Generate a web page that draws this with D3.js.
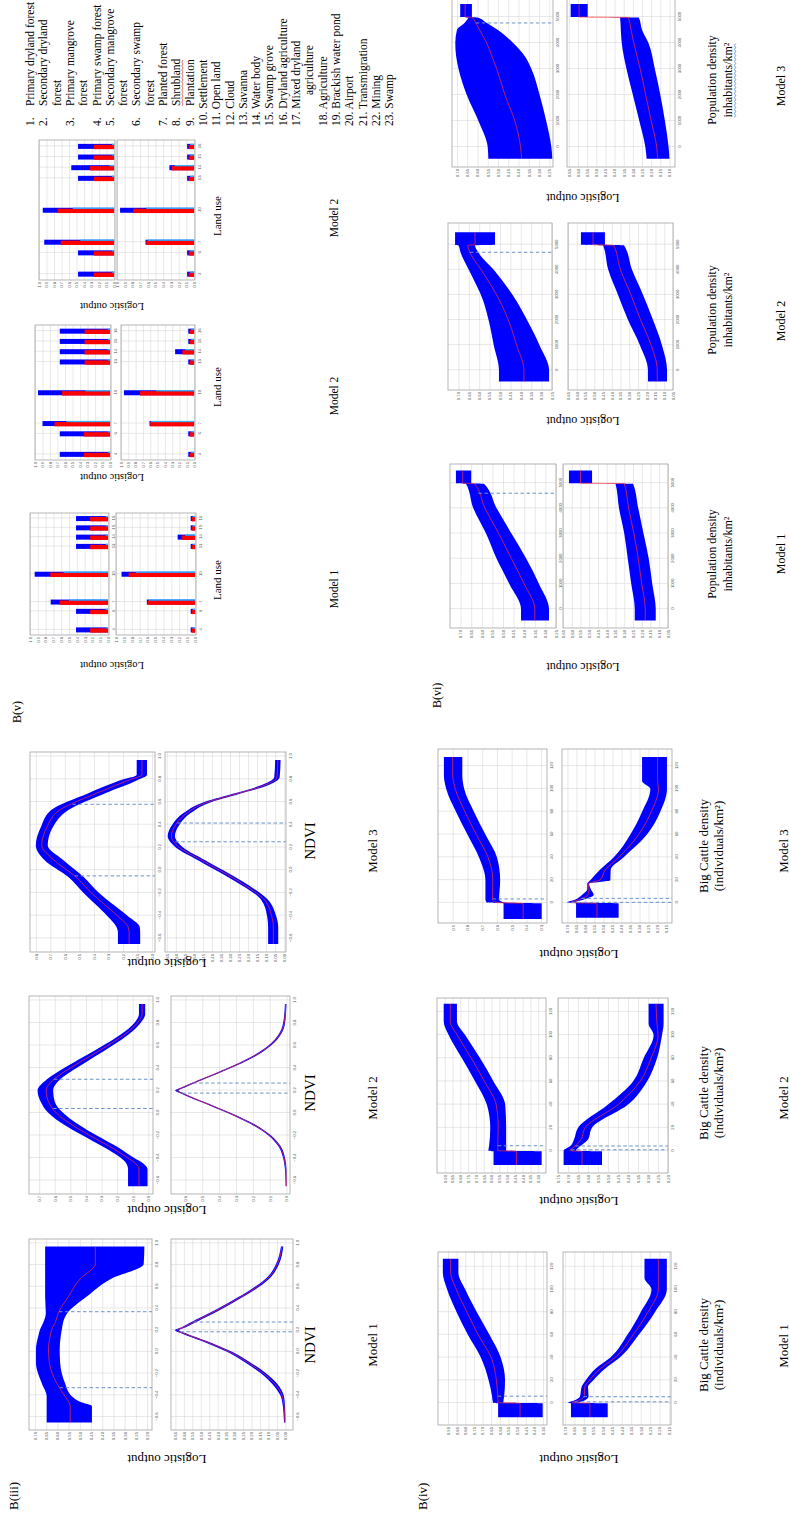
<!DOCTYPE html>
<html>
<head>
<meta charset="utf-8">
<script src="https://cdn.jsdelivr.net/npm/d3@7/dist/d3.min.js"></script>
<style>body{margin:0;background:#fff}</style>
</head>
<body>
<svg id="fig" width="790" height="1516"></svg>
<script>
// x tick labels
var ndviTicks = [-0.6, -0.4, -0.2, 0.0, 0.2, 0.4, 0.6, 0.8, 1.0];
var cattleTicks = [0, 20, 40, 60, 80, 100, 120];
var popTicks = [0, 1000, 2000, 3000, 4000, 5000];
var landCats = [4, 6, 7, 10, 13, 14, 15, 16];

// y tick labels
var yt20to70 = [0.20, 0.25, 0.30, 0.35, 0.40, 0.45, 0.50, 0.55, 0.60, 0.65, 0.70];
var yt00to65 = [0.00, 0.05, 0.10, 0.15, 0.20, 0.25, 0.30, 0.35, 0.40, 0.45, 0.50, 0.55, 0.60, 0.65];
var yt0to7 = [0.0, 0.1, 0.2, 0.3, 0.4, 0.5, 0.6, 0.7];
var yt0to6 = [0.0, 0.1, 0.2, 0.3, 0.4, 0.5, 0.6];
var yt0to8 = [0.0, 0.1, 0.2, 0.3, 0.4, 0.5, 0.6, 0.7, 0.8];
var yt35to90 = [0.35, 0.40, 0.45, 0.50, 0.55, 0.60, 0.65, 0.70, 0.75, 0.80, 0.85, 0.90];
var yt15to70 = [0.15, 0.20, 0.25, 0.30, 0.35, 0.40, 0.45, 0.50, 0.55, 0.60, 0.65, 0.70];
var yt30to90 = [0.30, 0.35, 0.40, 0.45, 0.50, 0.55, 0.60, 0.65, 0.70, 0.75, 0.80, 0.85, 0.90];
var yt20to75 = [0.20, 0.25, 0.30, 0.35, 0.40, 0.45, 0.50, 0.55, 0.60, 0.65, 0.70, 0.75];
var yt3to9 = [0.3, 0.4, 0.5, 0.6, 0.7, 0.8, 0.9];
var yt25to70 = [0.25, 0.30, 0.35, 0.40, 0.45, 0.50, 0.55, 0.60, 0.65, 0.70];
var yt05to65 = [0.05, 0.10, 0.15, 0.20, 0.25, 0.30, 0.35, 0.40, 0.45, 0.50, 0.55, 0.60, 0.65];
var yt10to65 = [0.10, 0.15, 0.20, 0.25, 0.30, 0.35, 0.40, 0.45, 0.50, 0.55, 0.60, 0.65];
var ytBars = [0.0, 0.1, 0.2, 0.3, 0.4, 0.5, 0.6, 0.7, 0.8, 0.9, 1.0];

// response curves: [x, lower, mean, upper]
var ndvi1Top = [[-0.65,0.446,0.543,0.648],[-0.50,0.446,0.543,0.648],[-0.46,0.50,0.55,0.648],[-0.41,0.536,0.566,0.648],[-0.29,0.566,0.603,0.67],[-0.10,0.588,0.636,0.696],[0.02,0.59,0.64,0.696],[0.15,0.585,0.632,0.685],[0.21,0.58,0.625,0.677],[0.27,0.575,0.61,0.663],[0.36,0.555,0.596,0.652],[0.51,0.469,0.551,0.655],[0.67,0.364,0.50,0.655],[0.81,0.215,0.431,0.655],[0.97,0.212,0.431,0.655]];
var ndvi1Bot = [[-0.65,0.0,0.003,0.008],[-0.6,0.0,0.004,0.01],[-0.5,0.002,0.008,0.015],[-0.4,0.01,0.02,0.03],[-0.3,0.045,0.06,0.075],[-0.2,0.113,0.128,0.143],[-0.1,0.205,0.22,0.235],[0.0,0.315,0.33,0.345],[0.1,0.465,0.48,0.495],[0.17,0.585,0.6,0.612],[0.2,0.628,0.64,0.652],[0.23,0.585,0.598,0.61],[0.3,0.495,0.51,0.525],[0.4,0.37,0.384,0.398],[0.5,0.257,0.27,0.283],[0.6,0.155,0.167,0.18],[0.7,0.08,0.09,0.1],[0.8,0.04,0.05,0.058],[0.97,0.012,0.02,0.026]];
var ndvi2Top = [[-0.65,0.005,0.06,0.13],[-0.5,0.005,0.06,0.13],[-0.45,0.03,0.08,0.14],[-0.4,0.09,0.13,0.175],[-0.3,0.2,0.245,0.29],[-0.2,0.33,0.375,0.42],[-0.1,0.45,0.495,0.545],[0.0,0.545,0.59,0.64],[0.1,0.6,0.64,0.69],[0.2,0.61,0.655,0.71],[0.3,0.565,0.605,0.65],[0.4,0.46,0.5,0.54],[0.5,0.345,0.38,0.415],[0.6,0.23,0.26,0.29],[0.7,0.125,0.15,0.175],[0.8,0.05,0.07,0.09],[0.88,0.02,0.04,0.06],[0.97,0.02,0.04,0.06]];
var ndvi2Bot = [[-0.65,0.0,0.002,0.006],[-0.5,0.001,0.005,0.01],[-0.4,0.009,0.015,0.021],[-0.3,0.033,0.04,0.047],[-0.2,0.092,0.1,0.108],[-0.1,0.19,0.2,0.21],[0.0,0.33,0.34,0.35],[0.1,0.49,0.5,0.51],[0.17,0.6,0.61,0.62],[0.2,0.64,0.65,0.66],[0.23,0.6,0.61,0.62],[0.3,0.49,0.5,0.51],[0.4,0.33,0.34,0.35],[0.5,0.19,0.2,0.21],[0.6,0.092,0.1,0.108],[0.7,0.033,0.04,0.047],[0.8,0.009,0.015,0.021],[0.97,0.001,0.005,0.01]];
var ndvi3Top = [[-0.65,0.082,0.158,0.235],[-0.55,0.082,0.158,0.235],[-0.5,0.085,0.165,0.245],[-0.4,0.17,0.24,0.31],[-0.3,0.27,0.33,0.39],[-0.2,0.365,0.418,0.471],[-0.06,0.471,0.523,0.576],[0.09,0.612,0.676,0.741],[0.22,0.718,0.759,0.80],[0.38,0.682,0.723,0.765],[0.53,0.576,0.635,0.694],[0.68,0.318,0.376,0.435],[0.79,0.106,0.165,0.224],[0.84,0.035,0.07,0.106],[0.97,0.035,0.07,0.106]];
var ndvi3Bot = [[-0.65,0.033,0.06,0.089],[-0.5,0.033,0.06,0.089],[-0.4,0.045,0.07,0.095],[-0.26,0.09,0.11,0.128],[-0.1,0.23,0.25,0.27],[0.09,0.44,0.46,0.48],[0.2,0.56,0.58,0.60],[0.3,0.605,0.625,0.645],[0.4,0.58,0.60,0.62],[0.5,0.52,0.54,0.56],[0.59,0.42,0.44,0.46],[0.67,0.25,0.27,0.29],[0.74,0.1,0.12,0.14],[0.82,0.025,0.04,0.055],[0.97,0.02,0.035,0.05]];

var cattle1Top = [[-12.5,0.352,0.483,0.61],[-0.3,0.352,0.483,0.61],[0.3,0.58,0.61,0.64],[6,0.575,0.612,0.645],[20,0.57,0.62,0.665],[40,0.595,0.65,0.71],[60,0.66,0.725,0.785],[80,0.733,0.79,0.85],[100,0.80,0.852,0.905],[115,0.84,0.885,0.93],[127,0.84,0.885,0.93]];
var cattle1Bot = [[-12.5,0.474,0.568,0.668],[-0.3,0.474,0.568,0.668],[0.3,0.63,0.66,0.685],[2,0.60,0.63,0.655],[6,0.575,0.598,0.62],[14,0.578,0.595,0.612],[20,0.55,0.57,0.59],[30,0.49,0.515,0.54],[40,0.41,0.435,0.46],[60,0.31,0.34,0.37],[80,0.225,0.262,0.30],[100,0.162,0.207,0.243],[110,0.162,0.207,0.28],[127,0.162,0.207,0.28]];
var cattle2Top = [[-12,0.278,0.44,0.587],[-0.3,0.278,0.44,0.587],[0.3,0.506,0.56,0.62],[5,0.506,0.56,0.615],[20,0.506,0.557,0.608],[40,0.512,0.57,0.63],[60,0.587,0.645,0.705],[80,0.673,0.73,0.79],[100,0.769,0.82,0.875],[112,0.822,0.865,0.907],[127,0.822,0.865,0.907]];
var cattle2Bot = [[-12,0.53,0.63,0.722],[-0.3,0.53,0.63,0.722],[0.3,0.66,0.69,0.722],[4,0.64,0.665,0.69],[10,0.6,0.635,0.67],[20,0.58,0.615,0.65],[40,0.40,0.45,0.50],[60,0.305,0.34,0.375],[80,0.255,0.285,0.322],[100,0.23,0.25,0.272],[110,0.222,0.255,0.297],[127,0.222,0.26,0.297]];
var cattle3Top = [[-14,0.296,0.422,0.555],[-0.4,0.296,0.422,0.555],[0.3,0.55,0.60,0.67],[3,0.585,0.63,0.678],[20,0.578,0.628,0.678],[40,0.60,0.66,0.722],[60,0.678,0.74,0.80],[80,0.756,0.817,0.878],[100,0.822,0.883,0.944],[112,0.835,0.9,0.96],[128,0.835,0.9,0.96]];
var cattle3Bot = [[-13,0.416,0.536,0.652],[-0.4,0.416,0.536,0.652],[0.3,0.66,0.68,0.702],[3,0.61,0.633,0.656],[7,0.554,0.587,0.62],[12,0.57,0.58,0.59],[17,0.58,0.585,0.59],[20,0.462,0.52,0.573],[29,0.46,0.49,0.52],[40,0.388,0.415,0.443],[60,0.259,0.305,0.351],[80,0.185,0.235,0.286],[100,0.148,0.195,0.24],[107,0.148,0.2,0.286],[128,0.148,0.2,0.286]];

var pop1Top = [[-450,0.283,0.35,0.415],[0,0.283,0.35,0.415],[1000,0.33,0.40,0.47],[2000,0.39,0.46,0.53],[3000,0.46,0.52,0.58],[4000,0.53,0.585,0.64],[4980,0.59,0.635,0.675],[5000,0.65,0.69,0.722],[5500,0.65,0.69,0.722]];
var pop1Bot = [[-450,0.12,0.18,0.24],[0,0.12,0.18,0.24],[1000,0.14,0.20,0.26],[2000,0.16,0.22,0.28],[3000,0.19,0.245,0.30],[4000,0.22,0.275,0.33],[4980,0.25,0.30,0.35],[5000,0.484,0.55,0.616],[5500,0.484,0.55,0.616]];
var pop2Top = [[-450,0.264,0.385,0.505],[0,0.264,0.385,0.505],[1000,0.31,0.42,0.53],[2000,0.37,0.46,0.555],[2750,0.42,0.50,0.58],[4000,0.53,0.59,0.65],[4700,0.605,0.645,0.69],[4980,0.62,0.655,0.70],[5000,0.524,0.62,0.716],[5500,0.524,0.62,0.716]];
var pop2Bot = [[-450,0.084,0.14,0.193],[0,0.084,0.14,0.193],[1000,0.113,0.175,0.239],[2000,0.164,0.235,0.307],[3000,0.221,0.29,0.364],[4000,0.284,0.35,0.42],[4980,0.33,0.39,0.45],[5000,0.439,0.507,0.576],[5500,0.439,0.507,0.576]];
var pop3Top = [[-450,0.235,0.385,0.547],[0,0.24,0.39,0.55],[1000,0.265,0.418,0.595],[2000,0.297,0.466,0.652],[3000,0.337,0.506,0.692],[3500,0.37,0.53,0.704],[4000,0.426,0.555,0.708],[4500,0.50,0.59,0.70],[4800,0.56,0.61,0.66],[4980,0.60,0.627,0.645],[5000,0.627,0.66,0.684],[5500,0.627,0.66,0.684]];
var pop3Bot = [[-450,0.10,0.165,0.225],[0,0.105,0.17,0.232],[1000,0.125,0.20,0.265],[2000,0.15,0.23,0.30],[3000,0.18,0.26,0.335],[4000,0.215,0.295,0.361],[4500,0.25,0.31,0.366],[4980,0.268,0.325,0.37],[5000,0.547,0.594,0.64],[5500,0.547,0.594,0.64]];

// threshold lines (dashed)
var ndvi1TopDash = [-0.33, 0.37], ndvi1BotDash = [0.185, 0.275];
var ndvi2TopDash = [0.04, 0.30], ndvi2BotDash = [0.177, 0.266];
var ndvi3TopDash = [-0.05, 0.58], ndvi3BotDash = [0.25, 0.415];
var cattle1TopDash = [6], cattle1BotDash = [1, 5.5];
var cattle2TopDash = [4.5], cattle2BotDash = [1, 4.3];
var cattle3TopDash = [3.5], cattle3BotDash = [0.5, 4];
var pop1TopDash = [4600], pop2TopDash = [4700], pop3TopDash = [4770];

// land use bars, one row per category in landCats: [mean-sd, mean, mean+sd]
var land1Top = [[0.03,0.23,0.41],[0.03,0.23,0.41],[0.50,0.62,0.735],[0.57,0.74,0.94],[0.03,0.23,0.41],[0.03,0.23,0.41],[0.03,0.23,0.41],[0.03,0.23,0.41]];
var land1Bot = [[0.03,0.042,0.055],[0.03,0.042,0.055],[0.58,0.60,0.61],[0.75,0.84,0.93],[0.03,0.042,0.055],[0.125,0.17,0.22],[0.03,0.042,0.055],[0.03,0.042,0.055]];
var land2aTop = [[0.03,0.35,0.67],[0.03,0.35,0.67],[0.58,0.74,0.90],[0.33,0.64,0.96],[0.03,0.34,0.67],[0.03,0.34,0.67],[0.03,0.34,0.67],[0.03,0.34,0.67]];
var land2aBot = [[0.04,0.06,0.08],[0.04,0.06,0.08],[0.59,0.60,0.61],[0.52,0.74,0.96],[0.04,0.06,0.08],[0.12,0.16,0.26],[0.04,0.06,0.08],[0.04,0.06,0.08]];
var land2bTop = [[0.03,0.27,0.48],[0.03,0.27,0.48],[0.45,0.71,0.93],[0.55,0.75,0.95],[0.03,0.27,0.48],[0.06,0.32,0.57],[0.03,0.27,0.48],[0.03,0.27,0.48]];
var land2bBot = [[0.05,0.07,0.09],[0.05,0.07,0.09],[0.60,0.62,0.63],[0.62,0.79,0.96],[0.05,0.07,0.09],[0.25,0.29,0.32],[0.05,0.07,0.09],[0.05,0.07,0.09]];

var legendLines = [
  ['1.', 'Primary dryland forest'], ['2.', 'Secondary dryland'], ['', 'forest'],
  ['3.', 'Primary mangrove'], ['', 'forest'], ['4.', 'Primary swamp forest'],
  ['5.', 'Secondary mangrove'], ['', 'forest'], ['6.', 'Secondary swamp'], ['', 'forest'],
  ['7.', 'Planted forest'], ['8.', 'Shrubland'], ['9.', 'Plantation'],
  ['10.', 'Settlement'], ['11.', 'Open land'], ['12.', 'Cloud'], ['13.', 'Savanna'],
  ['14.', 'Water body'], ['15.', 'Swamp grove'], ['16.', 'Dryland agriculture'],
  ['17.', 'Mixed dryland'], ['', 'agriculture'], ['18.', 'Agriculture'],
  ['19.', 'Brackish water pond'], ['20.', 'Airport'], ['21.', 'Transmigration'],
  ['22.', 'Mining'], ['23.', 'Swamp']
];

// the page is a landscape figure turned a quarter turn
var svg = d3.select('#fig');
svg.append('rect').attr('width', 790).attr('height', 1516).attr('fill', '#fff');
var g = svg.append('g').attr('transform', 'translate(0,1516) rotate(-90)');
var SERIF = 'Liberation Serif, Times New Roman, serif';

var ndviX = {xd: [-0.72, 1.04], xt: ndviTicks, xf: '.1f'};
function ext(a, b) { return Object.assign({}, a, b); }

var panels = [
  ext(ndviX, {data: ndvi1Top, dash: ndvi1TopDash, x0: 86, x1: 277, y0: 29, y1: 152, yd: [0.178, 0.727], yt: yt20to70, yf: '.2f'}),
  ext(ndviX, {data: ndvi1Bot, dash: ndvi1BotDash, x0: 86, x1: 277, y0: 171, y1: 293, yd: [-0.045, 0.676], yt: yt00to65, yf: '.2f'}),
  ext(ndviX, {data: ndvi2Top, dash: ndvi2TopDash, x0: 322, x1: 520, y0: 29, y1: 153, yd: [-0.03, 0.765], yt: yt0to7, yf: '.1f'}),
  ext(ndviX, {data: ndvi2Bot, dash: ndvi2BotDash, x0: 322, x1: 520, y0: 171, y1: 290, yd: [-0.02, 0.685], yt: yt0to6, yf: '.1f'}),
  ext(ndviX, {data: ndvi3Top, dash: ndvi3TopDash, x0: 564, x1: 764, y0: 30, y1: 155, yd: [-0.02, 0.84], yt: yt0to8, yf: '.1f'}),
  ext(ndviX, {data: ndvi3Bot, dash: ndvi3BotDash, x0: 564, x1: 764, y0: 165, y1: 286, yd: [-0.01, 0.66], yt: yt00to65, yf: '.2f'}),

  {data: cattle1Top, dash: cattle1TopDash, x0: 91, x1: 264, y0: 438, y1: 547, xd: [-19.4, 133], xt: cattleTicks, xf: 'd', yd: [0.327, 0.958], yt: yt35to90, yf: '.2f'},
  {data: cattle1Bot, dash: cattle1BotDash, x0: 91, x1: 264, y0: 563, y1: 671, xd: [-19.4, 133], xt: cattleTicks, xf: 'd', yd: [0.14, 0.71], yt: yt15to70, yf: '.2f'},
  {data: cattle2Top, dash: cattle2TopDash, x0: 343, x1: 518, y0: 437, y1: 546, xd: [-19, 132], xt: cattleTicks, xf: 'd', yd: [0.25, 0.95], yt: yt30to90, yf: '.2f'},
  {data: cattle2Bot, dash: cattle2BotDash, x0: 343, x1: 518, y0: 558, y1: 668, xd: [-19, 132], xt: cattleTicks, xf: 'd', yd: [0.2, 0.75], yt: yt20to75, yf: '.2f'},
  {data: cattle3Top, dash: cattle3TopDash, x0: 593, x1: 767, y0: 438, y1: 547, xd: [-17.6, 135], xt: cattleTicks, xf: 'd', yd: [0.26, 1.0], yt: yt3to9, yf: '.1f'},
  {data: cattle3Bot, dash: cattle3BotDash, x0: 593, x1: 767, y0: 562, y1: 672, xd: [-17.6, 135], xt: cattleTicks, xf: 'd', yd: [0.12, 0.73], yt: yt15to70, yf: '.2f'},

  {data: pop1Top, dash: pop1TopDash, x0: 888, x1: 1052, y0: 450, y1: 556, xd: [-750, 5760], xt: popTicks, xf: 'd', yd: [0.25, 0.75], yt: yt25to70, yf: '.2f'},
  {data: pop1Bot, dash: [], x0: 888, x1: 1052, y0: 563, y1: 668, xd: [-750, 5760], xt: popTicks, xf: 'd', yd: [0.05, 0.65], yt: yt05to65, yf: '.2f'},
  {data: pop2Top, dash: pop2TopDash, x0: 1126, x1: 1293, y0: 448, y1: 552, xd: [-787, 5866], xt: popTicks, xf: 'd', yd: [0.25, 0.75], yt: yt25to70, yf: '.2f'},
  {data: pop2Bot, dash: [], x0: 1126, x1: 1293, y0: 568, y1: 673, xd: [-787, 5866], xt: popTicks, xf: 'd', yd: [0.05, 0.65], yt: yt05to65, yf: '.2f'},
  {data: pop3Top, dash: pop3TopDash, x0: 1349, x1: 1518, y0: 452, y1: 553, xd: [-770, 5730], xt: popTicks, xf: 'd', yd: [0.232, 0.724], yt: yt25to70, yf: '.2f'},
  {data: pop3Bot, dash: [], x0: 1349, x1: 1518, y0: 567, y1: 675, xd: [-770, 5730], xt: popTicks, xf: 'd', yd: [0.07, 0.66], yt: yt10to65, yf: '.2f'}
];

var barPanels = [
  {data: land1Top, x0: 881, x1: 1003, y0: 30, y1: 109},
  {data: land1Bot, x0: 881, x1: 1003, y0: 116, y1: 196},
  {data: land2aTop, x0: 1056, x1: 1191, y0: 35, y1: 111},
  {data: land2aBot, x0: 1056, x1: 1191, y0: 121, y1: 195},
  {data: land2bTop, x0: 1236, x1: 1376, y0: 39, y1: 115},
  {data: land2bBot, x0: 1236, x1: 1376, y0: 117, y1: 195}
];

function frame(p) {
  var x = d3.scaleLinear().domain(p.xd).range([p.x0, p.x1]);
  var y = d3.scaleLinear().domain(p.yd).range([p.y1, p.y0]);
  var c = g.append('g');
  c.append('rect').attr('x', p.x0).attr('y', p.y0)
    .attr('width', p.x1 - p.x0).attr('height', p.y1 - p.y0).attr('fill', '#fff');
  var ax = c.append('g').attr('transform', 'translate(0,' + p.y1 + ')')
    .call(d3.axisBottom(x).tickValues(p.xt).tickSize(-(p.y1 - p.y0)).tickSizeOuter(0)
      .tickPadding(3).tickFormat(d3.format(p.xf)));
  var ay = c.append('g').attr('transform', 'translate(' + p.x0 + ',0)')
    .call(d3.axisLeft(y).tickValues(p.yt).tickSize(-(p.x1 - p.x0)).tickSizeOuter(0)
      .tickPadding(2).tickFormat(d3.format(p.yf)));
  [ax, ay].forEach(function(a) {
    a.select('.domain').remove();
    a.selectAll('line').attr('stroke', '#d9d9d9').attr('stroke-width', 0.6);
    a.selectAll('text').attr('font-size', 4.2).attr('fill', '#555')
      .attr('font-family', 'Liberation Sans, Arial, sans-serif');
  });
  return {c: c, x: x, y: y};
}

function border(f, p) {
  f.c.append('rect').attr('x', p.x0).attr('y', p.y0)
    .attr('width', p.x1 - p.x0).attr('height', p.y1 - p.y0)
    .attr('fill', 'none').attr('stroke', '#a3a3a3').attr('stroke-width', 0.8);
}

// mean value of the curve at v, for the dashed threshold lines
function meanAt(data, v) {
  var i = d3.bisector(function(d) { return d[0]; }).left(data, v);
  if (i <= 0) return data[0][2];
  if (i >= data.length) return data[data.length - 1][2];
  var a = data[i - 1], b = data[i], t = (v - a[0]) / (b[0] - a[0]);
  return a[2] + t * (b[2] - a[2]);
}

panels.forEach(function(p) {
  var f = frame(p);
  var area = d3.area().curve(d3.curveMonotoneX)
    .x(function(d) { return f.x(d[0]); })
    .y0(function(d) { return f.y(d[1]); })
    .y1(function(d) { return f.y(d[3]); });
  var line = d3.line().curve(d3.curveMonotoneX)
    .x(function(d) { return f.x(d[0]); })
    .y(function(d) { return f.y(d[2]); });
  f.c.append('path').datum(p.data).attr('d', area).attr('fill', '#0000ff');
  f.c.append('path').datum(p.data).attr('d', line)
    .attr('fill', 'none').attr('stroke', '#ff3030').attr('stroke-width', 0.7);
  p.dash.forEach(function(v) {
    f.c.append('line')
      .attr('x1', f.x(v)).attr('x2', f.x(v))
      .attr('y1', f.y(meanAt(p.data, v))).attr('y2', p.y1)
      .attr('stroke', '#6a93c8').attr('stroke-width', 1).attr('stroke-dasharray', '3.5,2.5');
  });
  border(f, p);
});

barPanels.forEach(function(p) {
  var q = ext(p, {xd: [3.45, 16.6], xt: landCats, xf: 'd', yd: [-0.012, 1.0], yt: ytBars, yf: '.1f'});
  var f = frame(q);
  var bw = 5;
  var rows = p.data.map(function(d, i) { return {cat: landCats[i], lo: d[0], mean: d[1], hi: d[2]}; });
  var base = f.y(0);
  f.c.selectAll(null).data(rows).enter().append('rect')
    .attr('x', function(d) { return f.x(d.cat) - bw / 2; })
    .attr('y', function(d) { return f.y(d.hi); })
    .attr('width', bw).attr('height', function(d) { return base - f.y(d.hi); })
    .attr('fill', '#0000ff');
  f.c.selectAll(null).data(rows).enter().append('rect')
    .attr('x', function(d) { return f.x(d.cat) - bw / 2 - 0.3; })
    .attr('y', function(d) { return f.y(d.mean); })
    .attr('width', bw - 0.6).attr('height', function(d) { return base - f.y(d.mean); })
    .attr('fill', '#ff0000');
  f.c.selectAll(null).data(rows).enter().append('rect')
    .attr('x', function(d) { return f.x(d.cat) + bw / 2 - 1.1; })
    .attr('y', function(d) { return f.y(d.lo); })
    .attr('width', 1.3).attr('height', function(d) { return base - f.y(d.lo); })
    .attr('fill', '#33b5ff');
  border(f, q);
});

function text(s, x, y, size, anchor) {
  return g.append('text').attr('x', x).attr('y', y).attr('font-size', size)
    .attr('font-family', SERIF).attr('fill', '#000')
    .attr('text-anchor', anchor || 'middle').text(s);
}
function yLabel(x, y, size) {
  g.append('text').attr('transform', 'translate(' + x + ',' + y + ') rotate(-90)')
    .attr('font-size', size).attr('font-family', SERIF).attr('fill', '#000')
    .attr('text-anchor', 'middle').text('Logistic output');
}
function squiggle(t, colour) {
  var b = t.node().getBBox();
  var pts = [], yb = b.y + b.height - 0.5;
  for (var k = 0; k * 2 <= b.width; k++) pts.push([b.x + k * 2, yb + (k % 2 ? 1.2 : 0)]);
  g.append('path').attr('d', d3.line()(pts)).attr('fill', 'none')
    .attr('stroke', colour).attr('stroke-width', 0.7);
}

// group labels
text('B(iii)', 6, 18, 13, 'start');
text('B(iv)', 6, 427, 13, 'start');
text('B(v)', 793, 21, 12, 'start');
text('B(vi)', 808, 441, 12, 'start');

// B(iii) NDVI
[[61, 171, 171], [310, 423, 418], [557, 675, 665]].forEach(function(c, i) {
  yLabel(c[0], 167, 13);
  text('NDVI', c[1], 315, 15);
  text('Model ' + (i + 1), c[2], 377, 13);
});

// B(iv) big cattle
[[61, 171, 170], [319, 423, 418], [566, 670, 665]].forEach(function(c, i) {
  yLabel(c[0], 579, 13);
  text('Big Cattle density', c[1], 708, 13);
  text('(individuals/km\u00b2)', c[1], 723, 13);
  text('Model ' + (i + 1), c[2], 788, 13);
});

// B(v) land use
[[854, 936, 927, 1], [1042, 1129, 1120, 2], [1213, 1300, 1298, 2]].forEach(function(c) {
  yLabel(c[0], 112, 10.5);
  text('Land use', c[1], 221, 11);
  text('Model ' + c[3], c[2], 338, 11.5);
});

// B(vi) population density
[[853, 962, 962], [1099, 1206, 1195], [1322, 1436, 1430]].forEach(function(c, i) {
  yLabel(c[0], 583, 12);
  text('Population density', c[1], 716, 12);
  var t = text('inhabitants/km\u00b2', c[1], 732, 12);
  if (i === 2) squiggle(t, '#3c6fd6');
  text('Model ' + (i + 1), c[2], 785, 12);
});

// land use legend
legendLines.forEach(function(l, i) {
  var yy = 34 + i * 13.3;
  if (l[0].length === 3) {
    text(l[0] + ' ' + l[1], 1390, yy, 11.5, 'start');
  } else {
    if (l[0]) text(l[0], 1390, yy, 11.5, 'start');
    var t = text(l[1], l[1] === 'agriculture' ? 1421 : 1410, yy, 11.5, 'start');
    if (l[1] === 'Shrubland') squiggle(t, '#e03030');
  }
});
</script>
</body>
</html>
